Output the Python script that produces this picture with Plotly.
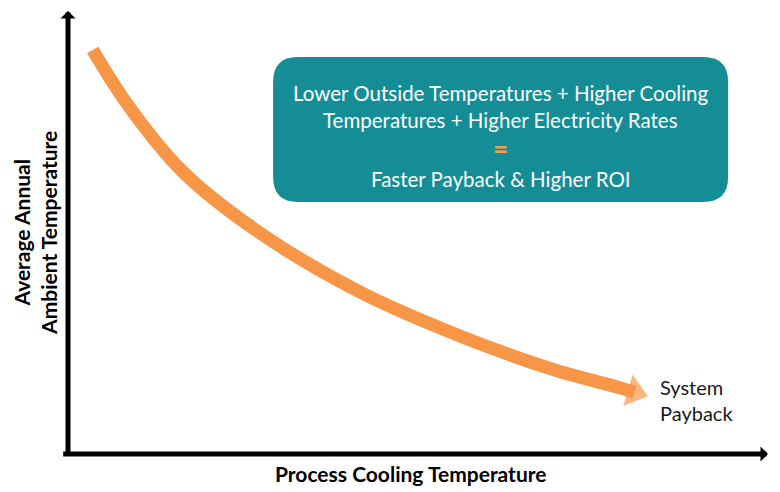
import plotly.graph_objects as go

# Schematic payback curve (arbitrary units)
curve_x = [0.353, 0.886, 1.643, 2.743, 4.171, 5.600, 6.886, 7.843, 8.094]
curve_y = [9.120, 7.810, 6.366, 4.989, 3.657, 2.664, 1.930, 1.512, 1.393]

x_title = "Process Cooling Temperature"
y_title = ["Average Annual", "Ambient Temperature"]
end_label = ["System", "Payback"]
box_lines = [
    "Lower Outside Temperatures + Higher Cooling",
    "Temperatures + Higher Electricity Rates",
    "=",
    "Faster Payback & Higher ROI",
]

ORANGE = "#F79646"
TEAL = "#148D96"
FONT = "Lato"


def rounded_rect(x0, y0, x1, y1, rx, ry):
    # svg path for a rounded box in paper coords
    return (f"M{x0+rx},{y0} L{x1-rx},{y0} Q{x1},{y0} {x1},{y0+ry} "
            f"L{x1},{y1-ry} Q{x1},{y1} {x1-rx},{y1} "
            f"L{x0+rx},{y1} Q{x0},{y1} {x0},{y1-ry} "
            f"L{x0},{y0+ry} Q{x0},{y0} {x0+rx},{y0} Z")


fig = go.Figure()

# orange curve, arrow head sits on the last point
sizes = [0] * (len(curve_x) - 1) + [28]
fig.add_trace(go.Scatter(
    x=curve_x, y=curve_y,
    mode="lines+markers",
    line=dict(color=ORANGE, width=13, shape="spline", smoothing=1.0),
    marker=dict(symbol="triangle-up", size=sizes, color=ORANGE,
                angleref="previous", line=dict(width=0)),
    cliponaxis=False,
    hoverinfo="skip",
    showlegend=False
))

# axes drawn as arrows
fig.add_annotation(x=0, y=10, ax=0, ay=-0.06, xref="x", yref="y", axref="x", ayref="y",
                   text="", showarrow=True, arrowhead=1, arrowsize=0.5,
                   arrowwidth=5, arrowcolor="black", standoff=0)
fig.add_annotation(x=10, y=0, ax=-0.09, ay=0, xref="x", yref="y", axref="x", ayref="y",
                   text="", showarrow=True, arrowhead=1, arrowsize=0.5,
                   arrowwidth=5, arrowcolor="black", standoff=0)

# teal box
fig.add_shape(type="path", xref="paper", yref="paper",
              path=rounded_rect(0.293, 0.569, 0.943, 0.896, 0.0357, 0.0564),
              fillcolor=TEAL, line=dict(width=0), layer="below")

box_y = [0.815, 0.754, 0.690, 0.621]
for txt, yy in zip(box_lines, box_y):
    is_eq = txt == "="
    fig.add_annotation(
        text=f"<b>{txt}</b>" if is_eq else txt,
        x=0.618, y=yy, xref="paper", yref="paper",
        xanchor="center", yanchor="middle", showarrow=False,
        font=dict(family=FONT, size=26 if is_eq else 20.5,
                  color="#EFA14D" if is_eq else "white")
    )

# axis titles
fig.add_annotation(text=f"<b>{x_title}</b>", x=0.49, y=-0.045, xref="paper", yref="paper",
                   xanchor="center", yanchor="middle", showarrow=False,
                   font=dict(family=FONT, size=21, color="black"))
fig.add_annotation(text="<b>" + "<br>".join(y_title) + "</b>", x=-0.048, y=0.5,
                   xref="paper", yref="paper", textangle=-90,
                   xanchor="center", yanchor="middle", showarrow=False,
                   font=dict(family=FONT, size=21, color="black"))

fig.add_annotation(text="<br>".join(end_label), x=0.843, y=0.122, xref="paper", yref="paper",
                   xanchor="left", yanchor="middle", align="left", showarrow=False,
                   font=dict(family=FONT, size=20, color="#1a1a1a"))

# page body has an 8px margin, so the plot area is pulled up/left by that much
fig.update_layout(
    width=780, height=492,
    margin=dict(l=60, r=20, t=3, b=46),
    paper_bgcolor="white",
    plot_bgcolor="white",
    xaxis=dict(range=[0, 10], visible=False, fixedrange=True),
    yaxis=dict(range=[0, 10], visible=False, fixedrange=True),
    showlegend=False
)

fig.write_html("out.html")
